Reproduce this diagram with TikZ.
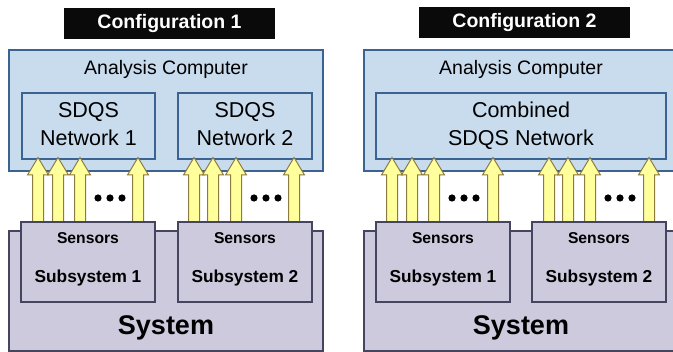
\documentclass[tikz,border=0pt]{standalone}
\usepackage{fontspec}
\setmainfont{Liberation Sans}
\definecolor{acfill}{HTML}{C8DCEE}
\definecolor{acdraw}{HTML}{3A6392}
\definecolor{sysfill}{HTML}{CCCADC}
\definecolor{sysdraw}{HTML}{45455F}
\definecolor{arfill}{HTML}{FFFF9C}
\definecolor{ardraw}{HTML}{8C7A3E}
\definecolor{lblfill}{HTML}{0A0A0A}
\tikzset{
  acbox/.style={draw=acdraw, fill=acfill, line width=2pt, inner sep=0pt},
  netbox/.style={draw=acdraw, fill=acfill, line width=2pt, inner sep=0pt},
  sysbox/.style={draw=sysdraw, fill=sysfill, line width=2pt, inner sep=0pt},
  subbox/.style={draw=sysdraw, fill=sysfill, line width=1.8pt, inner sep=0pt},
  lbl/.style={fill=lblfill, inner sep=0pt, text=white, font=\bfseries\fontsize{19.5}{22}\selectfont},
  normtxt/.style={anchor=base, inner sep=0pt, font=\fontsize{19.5}{22}\selectfont},
  nettxt/.style={anchor=base, inner sep=0pt, font=\fontsize{21.5}{24}\selectfont},
  senstxt/.style={anchor=base, inner sep=0pt, font=\bfseries\fontsize{15.7}{18}\selectfont},
  subtxt/.style={anchor=base, inner sep=0pt, font=\bfseries\fontsize{17.3}{20}\selectfont},
  systxt/.style={anchor=base, inner sep=0pt, font=\bfseries\fontsize{27}{30}\selectfont},
  blkarrow/.style={draw=ardraw, fill=arfill, line width=1pt, line join=miter},
  dotstyle/.style={fill=black, draw=none},
  upblk/.pic={\path[blkarrow] (-5.5,222) -- (-5.5,175) -- (-10.5,175) -- (0,157.5) -- (10.5,175) -- (5.5,175) -- (5.5,222) -- cycle;}
}
\begin{document}
\begin{tikzpicture}[x=1pt,y=-1pt]
\useasboundingbox (0,0) rectangle (673,352);
\clip (0,0) rectangle (673,352);
\fill[white] (0,0) rectangle (673,352);

% ---------- Configuration 1 ----------
\node[lbl, minimum width=211pt, minimum height=31pt] (lbl1) at (169.5,23.5) {Configuration 1};

\node[sysbox, minimum width=314pt, minimum height=120pt] (sys1) at (166,291) {};
\node[acbox, minimum width=314pt, minimum height=121pt] (ac1) at (166,110.5) {};
\node[normtxt] (ac1t) at (166,75) {Analysis Computer};
\node[netbox, minimum width=133pt, minimum height=66pt] (net1a) at (88.5,126) {};
\node[netbox, minimum width=134pt, minimum height=66pt] (net1b) at (245,126) {};
\node[nettxt] (net1at) at (88.5,118) {SDQS};
\node[nettxt] (net1at2) at (88.5,146) {Network 1};
\node[nettxt] (net1bt) at (245,118) {SDQS};
\node[nettxt] (net1bt2) at (245,146) {Network 2};

\foreach \xx in {38,58,80,138,194,213,236,294} {\pic at (\xx,0) {upblk};}

\node[subbox, minimum width=134pt, minimum height=80pt] (sub1a) at (88,262) {};
\node[subbox, minimum width=134pt, minimum height=80pt] (sub1b) at (245,262) {};
\node[senstxt] (s1at) at (88,244) {Sensors};
\node[subtxt] (s1at2) at (88,283) {Subsystem 1};
\node[senstxt] (s1bt) at (245,244) {Sensors};
\node[subtxt] (s1bt2) at (245,283) {Subsystem 2};
\node[systxt] (sys1t) at (166,335) {System};

\foreach \xx in {98,110,122,254,266,278} {\fill[dotstyle] (\xx,198) circle (3.6pt);}

% ---------- Configuration 2 ----------
\node[lbl, minimum width=211pt, minimum height=31pt] (lbl2) at (524.5,22.5) {Configuration 2};

\node[sysbox, minimum width=314pt, minimum height=120pt] (sys2) at (521,291) {};
\node[acbox, minimum width=314pt, minimum height=121pt] (ac2) at (521,110.5) {};
\node[normtxt] (ac2t) at (521,75) {Analysis Computer};
\node[netbox, minimum width=290pt, minimum height=66pt] (net2) at (521,126) {};
\node[nettxt] (net2t) at (521,118) {Combined};
\node[nettxt] (net2t2) at (521,146) {SDQS Network};

\foreach \xx in {392,412,434,493,549,568,590,649} {\pic at (\xx,0) {upblk};}

\node[subbox, minimum width=134pt, minimum height=80pt] (sub2a) at (443,262) {};
\node[subbox, minimum width=134pt, minimum height=80pt] (sub2b) at (599,262) {};
\node[senstxt] (s2at) at (443,244) {Sensors};
\node[subtxt] (s2at2) at (443,283) {Subsystem 1};
\node[senstxt] (s2bt) at (599,244) {Sensors};
\node[subtxt] (s2bt2) at (599,283) {Subsystem 2};
\node[systxt] (sys2t) at (521,335) {System};

\foreach \xx in {452,464,476,608,620,632} {\fill[dotstyle] (\xx,198) circle (3.6pt);}
\end{tikzpicture}
\end{document}
